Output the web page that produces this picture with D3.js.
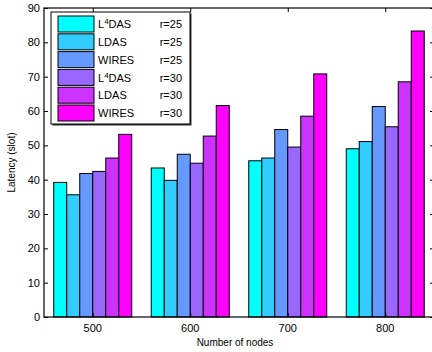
<!DOCTYPE html>
<html>
<head>
<meta charset="utf-8">
<script src="https://cdn.jsdelivr.net/npm/d3@7"></script>
<style>
  body { margin: 0; background: #fff; }
  svg text { font-family: "Liberation Sans", Arial, sans-serif; fill: #000; }
</style>
</head>
<body>
<svg id="chart" width="432" height="352"></svg>
<script>
(function() {
  'use strict';

  // data
  const categories = ['500', '600', '700', '800'];
  const seriesNames = ['L4DAS r=25', 'LDAS r=25', 'WIRES r=25', 'L4DAS r=30', 'LDAS r=30', 'WIRES r=30'];
  const legendNames = ['L4DAS', 'LDAS', 'WIRES', 'L4DAS', 'LDAS', 'WIRES'];
  const legendRadius = ['r=25', 'r=25', 'r=25', 'r=30', 'r=30', 'r=30'];
  const l4dasR25 = [39.2, 43.4, 45.5, 49.0];
  const ldasR25 = [35.6, 39.8, 46.3, 51.1];
  const wiresR25 = [41.8, 47.4, 54.6, 61.3];
  const l4dasR30 = [42.4, 44.8, 49.5, 55.4];
  const ldasR30 = [46.3, 52.7, 58.5, 68.5];
  const wiresR30 = [53.2, 61.6, 70.8, 83.3];
  const yTicks = [0, 10, 20, 30, 40, 50, 60, 70, 80, 90];
  const colors = ['#00ffff', '#33ccff', '#6699ff', '#9966ff', '#cc33ff', '#ff00ff'];

  const series = [l4dasR25, ldasR25, wiresR25, l4dasR30, ldasR30, wiresR30];

  const svg = d3.select('#chart');
  const left = 44, right = 434, top = 8, bottom = 317;

  // matlab style: categories at 1..4 with xlim [0.5, 4.5]
  const x = d3.scaleLinear().domain([0.5, categories.length + 0.5]).range([left, right]);
  const y = d3.scaleLinear().domain([0, 90]).range([bottom, top]);
  const groupWidth = 0.8;
  const barW = groupWidth / series.length;

  // bars
  series.forEach((vals, si) => {
    svg.append('g').selectAll('rect')
      .data(vals)
      .join('rect')
      .attr('x', (d, i) => x(i + 1 - groupWidth / 2 + si * barW))
      .attr('y', d => y(d))
      .attr('width', x(barW) - x(0))
      .attr('height', d => y(0) - y(d))
      .attr('fill', colors[si])
      .attr('stroke', '#000')
      .attr('stroke-width', 1)
      .attr('data-series', seriesNames[si]);
  });

  // axes box
  const tickLen = 4;
  svg.append('rect')
    .attr('x', left).attr('y', top)
    .attr('width', right - left).attr('height', bottom - top)
    .attr('fill', 'none').attr('stroke', '#000').attr('stroke-width', 1.2);

  const yAxis = d3.axisRight(y).tickValues(yTicks).tickSize(tickLen).tickFormat('');
  svg.append('g').attr('transform', `translate(${left},0)`).call(yAxis)
    .call(g => g.select('.domain').remove());
  svg.append('g').attr('transform', `translate(${right},0)`)
    .call(d3.axisLeft(y).tickValues(yTicks).tickSize(tickLen).tickFormat(''))
    .call(g => g.select('.domain').remove());

  const xTickVals = categories.map((c, i) => i + 1);
  svg.append('g').attr('transform', `translate(0,${bottom})`)
    .call(d3.axisTop(x).tickValues(xTickVals).tickSize(tickLen).tickFormat(''))
    .call(g => g.select('.domain').remove());
  svg.append('g').attr('transform', `translate(0,${top})`)
    .call(d3.axisBottom(x).tickValues(xTickVals).tickSize(tickLen).tickFormat(''))
    .call(g => g.select('.domain').remove());

  // tick labels
  svg.append('g').selectAll('text')
    .data(yTicks)
    .join('text')
    .attr('x', left - 4)
    .attr('y', d => y(d))
    .attr('dy', '0.35em')
    .attr('text-anchor', 'end')
    .attr('font-size', 11)
    .text(d => d);

  svg.append('g').selectAll('text')
    .data(categories)
    .join('text')
    .attr('x', (d, i) => x(i + 1))
    .attr('y', bottom + 15)
    .attr('text-anchor', 'middle')
    .attr('font-size', 11)
    .text(d => d);

  // axis titles
  svg.append('text')
    .attr('x', (left + right) / 2 - 4)
    .attr('y', 346)
    .attr('text-anchor', 'middle')
    .attr('font-size', 10)
    .text('Number of nodes');

  svg.append('text')
    .attr('transform', `translate(15,${(top + bottom) / 2}) rotate(-90)`)
    .attr('text-anchor', 'middle')
    .attr('font-size', 10)
    .text('Latency (slot)');

  // legend
  const lg = svg.append('g').attr('transform', 'translate(51,12)');
  lg.append('rect')
    .attr('x', 1.5).attr('y', 1.5).attr('width', 139).attr('height', 112)
    .attr('fill', '#333');
  lg.append('rect')
    .attr('x', 0).attr('y', 0).attr('width', 139).attr('height', 112)
    .attr('fill', '#fff').attr('stroke', '#000').attr('stroke-width', 1);

  const rowY = d3.scaleLinear().domain([0, 5]).range([12, 101]);
  legendNames.forEach((name, i) => {
    const cy = rowY(i);
    lg.append('rect')
      .attr('x', 7).attr('y', cy - 8)
      .attr('width', 36).attr('height', 16)
      .attr('fill', colors[i]).attr('stroke', '#000').attr('stroke-width', 1);
    const t = lg.append('text')
      .attr('x', 47).attr('y', cy)
      .attr('dy', '0.38em')
      .attr('font-size', 11);
    if (name === 'L4DAS') {
      t.append('tspan').text('L');
      t.append('tspan').attr('font-size', 8).attr('dy', '-4').text('4');
      t.append('tspan').attr('dy', '4').text('DAS');
    } else {
      t.text(name);
    }
    lg.append('text')
      .attr('x', 131).attr('y', cy)
      .attr('dy', '0.38em')
      .attr('text-anchor', 'end')
      .attr('font-size', 11)
      .text(legendRadius[i]);
  });
})();
</script>
</body>
</html>
